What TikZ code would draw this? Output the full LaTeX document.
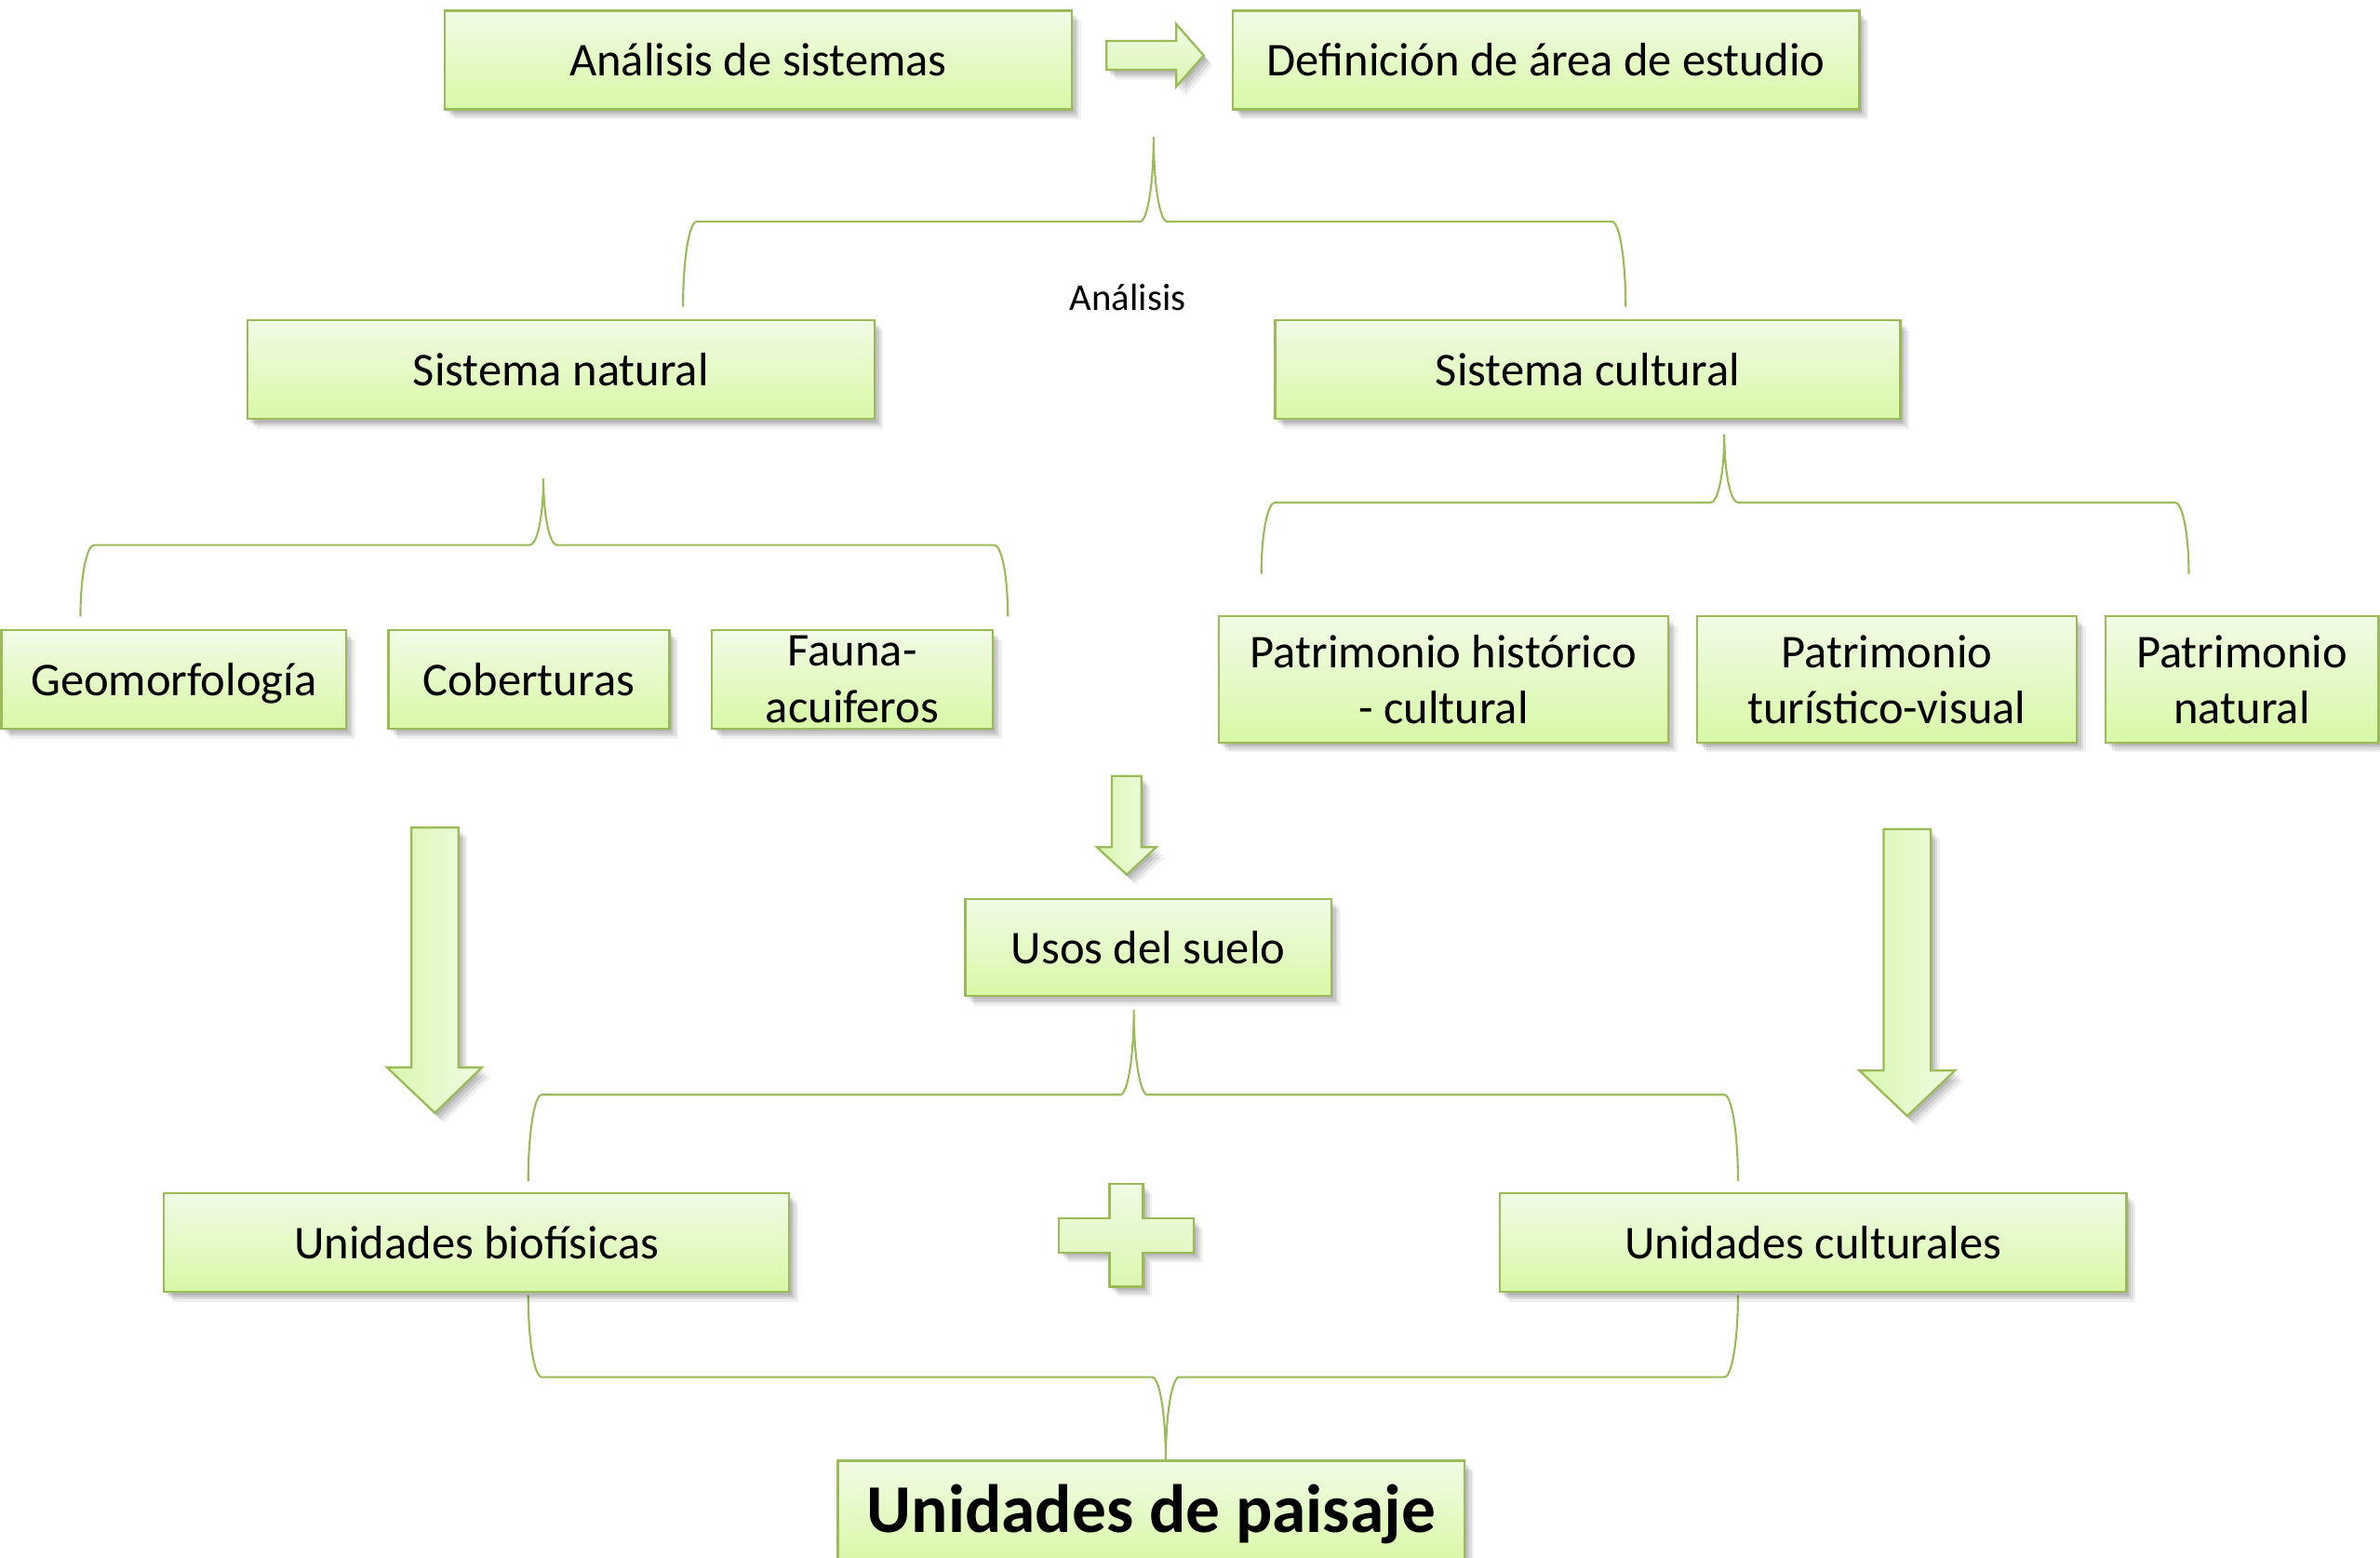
\documentclass[tikz,border=0pt]{standalone}
\usepackage{fontspec}
\setmainfont{Carlito}
\usetikzlibrary{shadows}
\definecolor{bord}{HTML}{9BBB59}
\definecolor{ctop}{HTML}{F1FBE6}
\definecolor{cbot}{HTML}{D8F8A6}
\definecolor{adark}{HTML}{DAF7B0}
\definecolor{alight}{HTML}{EFFBE3}
\tikzset{
  shd/.style={
    drop shadow={shadow xshift=1.5pt, shadow yshift=-2pt, opacity=0.09, fill=black},
    drop shadow={shadow xshift=3pt, shadow yshift=-3.5pt, opacity=0.09, fill=black},
    drop shadow={shadow xshift=4.5pt, shadow yshift=-5pt, opacity=0.08, fill=black},
    drop shadow={shadow xshift=6pt, shadow yshift=-6.5pt, opacity=0.06, fill=black}},
  boxst/.style={draw=bord, line width=1.4pt, top color=ctop, bottom color=cbot, shd,
    minimum height=65pt, inner sep=0pt, align=center, font=\fontsize{31}{37}\selectfont},
  one/.style={text height=27pt, text depth=6pt},
  arrv/.style={draw=bord, line width=1.4pt, left color=adark, right color=alight, shd},
  arrh/.style={draw=bord, line width=1.4pt, top color=alight, bottom color=adark, shd},
  brc/.style={draw=bord, line width=1.3pt},
}
\newcommand\mybrace[6]{% L R E M T Tip
  \draw[brc] (#1,#3) .. controls ({#1},{#3+0.552*(#4-#3)}) and ({#1+4},#4) .. ({#1+9},#4)
    -- ({#5-9},#4) .. controls ({#5-4},#4) and ({#5},{#6+0.552*(#4-#6)}) .. (#5,#6)
    .. controls ({#5},{#6+0.552*(#4-#6)}) and ({#5+4},#4) .. ({#5+9},#4)
    -- ({#2-9},#4) .. controls ({#2-4},#4) and ({#2},{#3+0.552*(#4-#3)}) .. (#2,#3);}
\begin{document}
\begin{tikzpicture}[x=1pt,y=-1pt]
\useasboundingbox (0,0) rectangle (1568,1026);
% braces
\mybrace{450}{1071}{202}{146}{760}{90}
\mybrace{53}{664}{406}{359}{358}{315}
\mybrace{831}{1442}{378}{331}{1136}{286}
\mybrace{348}{1145}{778}{721}{747}{665}
\mybrace{348}{1145}{853}{907}{768}{962}
\node[font=\fontsize{25}{30}\selectfont] (lab) at (743,196) {Análisis};
% row 1
\node[boxst, one, minimum width=413pt] (an) at (499.5,39.5) {Análisis de sistemas};
\node[boxst, one, minimum width=413pt] (def) at (1018.5,39.5) {Definición de área de estudio};
\draw[arrh] (729,27) -- (775,27) -- (775,16) -- (793,36.5) -- (775,57) -- (775,46) -- (729,46) -- cycle;
% row 2
\node[boxst, one, minimum width=413pt] (snat) at (369.5,243.5) {Sistema natural};
\node[boxst, one, minimum width=412pt] (scul) at (1046,243.5) {Sistema cultural};
% row 3
\node[boxst, one, minimum width=227pt] (geo) at (114.5,447.5) {Geomorfología};
\node[boxst, one, minimum width=185pt] (cob) at (348.5,447.5) {Coberturas};
\node[boxst, minimum width=185pt] (fau) at (561.5,447.5) {Fauna-\\acuiferos};
\node[boxst, minimum width=296pt, minimum height=83pt] (phc) at (951,447.5) {Patrimonio histórico\\- cultural};
\node[boxst, minimum width=250pt, minimum height=83pt] (ptv) at (1243,447.5) {Patrimonio\\turístico-visual};
\node[boxst, minimum width=180pt, minimum height=83pt] (pna) at (1477,447.5) {Patrimonio\\natural};
% down arrows
\draw[arrv] (271,545) -- (302,545) -- (302,703) -- (317.5,703) -- (286.5,733) -- (255,703) -- (271,703) -- cycle;
\draw[arrv] (732.5,511) -- (752,511) -- (752,558) -- (761.7,558) -- (742.3,576) -- (722.7,558) -- (732.5,558) -- cycle;
\draw[arrv] (1241,546) -- (1272,546) -- (1272,705) -- (1288,705) -- (1256.5,735) -- (1225,705) -- (1241,705) -- cycle;
% row 4
\node[boxst, one, minimum width=241pt, minimum height=64pt] (usos) at (756.5,624) {Usos del suelo};
% row 5
\node[boxst, one, minimum width=412pt] (ubio) at (314,818.5) {Unidades biofísicas};
\node[boxst, one, minimum width=413pt] (ucul) at (1194.5,818.5) {Unidades culturales};
\draw[arrh] (731,779.5) -- (753,779.5) -- (753,802.5) -- (786.5,802.5) -- (786.5,825) -- (753,825) -- (753,847.5) -- (731,847.5) -- (731,825) -- (697.7,825) -- (697.7,802.5) -- (731,802.5) -- cycle;
% row 6
\node[boxst, minimum width=413pt, minimum height=68pt, text height=36pt, text depth=9pt, font=\fontsize{45}{54}\selectfont\bfseries] (upai) at (758.5,996) {Unidades de paisaje};
\end{tikzpicture}
\end{document}
